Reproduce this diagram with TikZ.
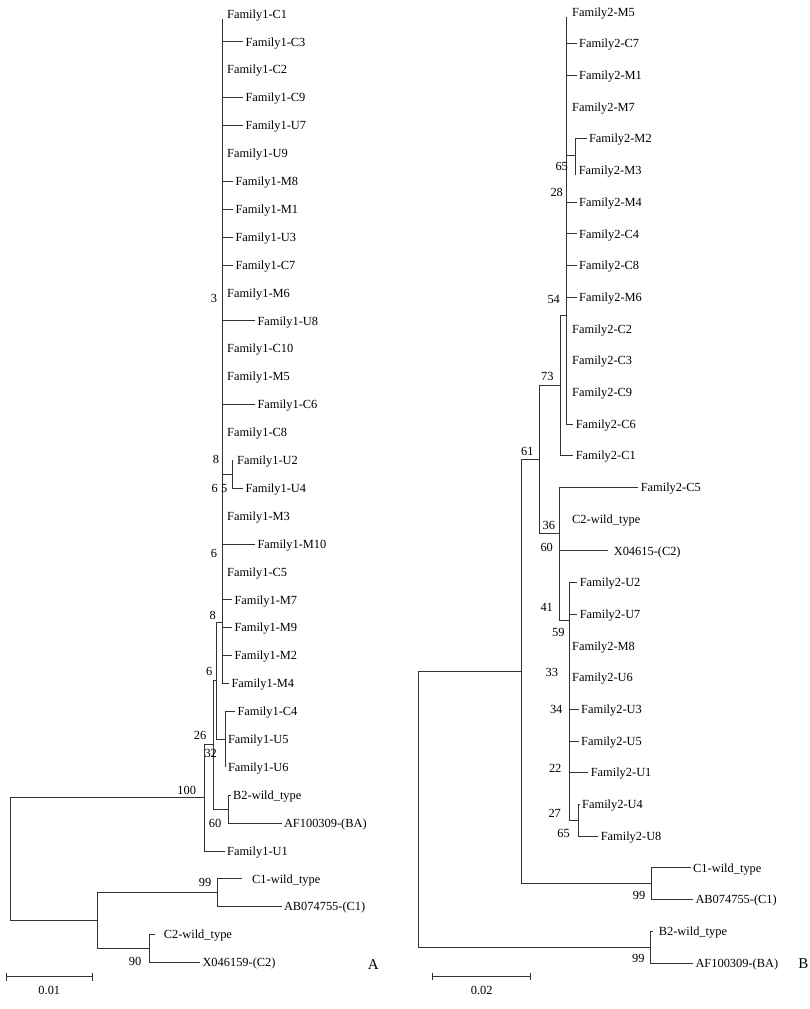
\documentclass[tikz,border=0pt]{standalone}
\usepackage{fontspec}
\setmainfont{Liberation Serif}

\begin{document}
\begin{tikzpicture}[x=1bp,y=-1bp,line width=1bp,
  branch/.style={black!80},
  leaf/.style={anchor=west,inner xsep=2bp,inner ysep=0pt,text height=8.2bp,text depth=0pt,
    font=\fontsize{12.4bp}{14bp}\selectfont},
  boot/.style={inner sep=0pt,text height=8.2bp,text depth=0pt,
    font=\fontsize{12.4bp}{14bp}\selectfont},
  panel/.style={inner sep=0pt,font=\fontsize{15bp}{18bp}\selectfont}]
\useasboundingbox (0,0) rectangle (810,1009);

% tree A: leaves
\foreach \x/\t [count=\i] in {224.7/Family1-C1, 243/Family1-C3, 224.7/Family1-C2, 243/Family1-C9,
    243/Family1-U7, 224.7/Family1-U9, 233/Family1-M8, 233/Family1-M1, 233/Family1-U3, 233/Family1-C7,
    224.7/Family1-M6, 255/Family1-U8, 224.7/Family1-C10, 224.7/Family1-M5, 255/Family1-C6,
    224.7/Family1-C8, 234.7/Family1-U2, 243/Family1-U4, 224.7/Family1-M3, 255/Family1-M10,
    224.7/Family1-C5, 232/Family1-M7, 232/Family1-M9, 232/Family1-M2, 229/Family1-M4,
    235/Family1-C4, 225.5/Family1-U5, 225.5/Family1-U6, 230.7/B2-wild\_type, 281.5/{AF100309-(BA)},
    224.7/Family1-U1, 249.7/C1-wild\_type, 281.5/{AB074755-(C1)}, 161.3/C2-wild\_type, 200/{X046159-(C2)}}
  \node[leaf] (a\i) at (\x,{14+27.9*(\i-1)}) {\t};

% tree A: inner nodes
\coordinate (A8) at (222,622);
\coordinate (AU) at (232.7,474.35);
\coordinate (A6) at (216.7,680.2);
\coordinate (A32) at (225,739.4);
\coordinate (A26) at (213.5,744.7);
\coordinate (A60) at (228.3,809.15);
\coordinate (A100) at (204,797.85);
\coordinate (A99) at (217.3,892.85);
\coordinate (A90) at (149,948.65);
\coordinate (A1) at (97.3,920.75);
\coordinate (rootA) at (10,859.3);

\draw[branch] (A8 |- a1.south) -- (A8 |- a25) -- (a25.west);
\foreach \i in {2,4,5,7,8,9,10,12,15,20,22,23,24}
  \draw[branch] (A8 |- a\i) -- (a\i.west);
\draw[branch] (A8 |- AU) -- (AU);
\draw[branch] (AU |- a17) -- (AU |- a18) -- (a18.west);
\draw[branch] (A8) -- (A6 |- A8) -- (A6 |- A32) -- (A32);
\draw[branch] (a26.west) -- (A32 |- a26) -- (A32 |- a28);
\draw[branch] (A6) -- (A26 |- A6) -- (A26 |- A60) -- (A60);
\draw[branch] (a29.west) -- (A60 |- a29) -- (A60 |- a30) -- (a30.west);
\draw[branch] (A26) -- (A100 |- A26) -- (A100 |- a31) -- (a31.west);
\draw[branch] ([xshift=-8bp]a32.west) -- (A99 |- a32) -- (A99 |- a33) -- (a33.west);
\draw[branch] ([xshift=-6.3bp]a34.west) -- (A90 |- a34) -- (A90 |- a35) -- (a35.west);
\draw[branch] (A99) -- (A1 |- A99) -- (A1 |- A90) -- (A90);
\draw[branch] (A100) -- (rootA |- A100) -- (rootA |- A1) -- (A1);

% tree A: bootstrap values
\foreach \x/\y/\v [count=\i] in {214/298.3/3, 216/459.3/8, 214.7/488.3/6, 224.3/488.3/5, 214/553.3/6,
    212.7/615/8, 209.3/671.7/6, 200/735.7/26, 210.7/753/32, 186.7/790/100, 215/823.3/60,
    205/882.7/99, 135/961.7/90}
  \node[boot] (sa\i) at (\x,\y) {\v};

% tree B: leaves
\foreach \x/\t [count=\i] in {569.7/Family2-M5, 576.7/Family2-C7, 576.7/Family2-M1, 569.7/Family2-M7,
    586.5/Family2-M2, 576.3/Family2-M3, 576.7/Family2-M4, 576.7/Family2-C4, 576.7/Family2-C8,
    576.7/Family2-M6, 569.7/Family2-C2, 569.7/Family2-C3, 569.7/Family2-C9, 573.3/Family2-C6,
    573.3/Family2-C1, 638.3/Family2-C5, 569.7/C2-wild\_type, 611.3/{X04615-(C2)}, 577.3/Family2-U2,
    577.3/Family2-U7, 569.7/Family2-M8, 569.7/Family2-U6, 578.7/Family2-U3, 578.7/Family2-U5,
    588.3/Family2-U1, 579.7/Family2-U4, 598.3/Family2-U8, 690.7/C1-wild\_type, 693/{AB074755-(C1)},
    656.3/B2-wild\_type, 693/{AF100309-(BA)}}
  \node[leaf] (b\i) at (\x,{12+31.7*(\i-1)}) {\t};

% tree B: inner nodes
\coordinate (Bc) at (566.7,315);
\coordinate (BM) at (575,155);
\coordinate (B73) at (560.7,385.4);
\coordinate (B36) at (559.3,533.3);
\coordinate (BU) at (569,620);
\coordinate (B65) at (578.3,820.35);
\coordinate (B61) at (539.3,459.35);
\coordinate (Bm) at (521.7,671.55);
\coordinate (B99a) at (651.7,883.75);
\coordinate (B99b) at (650,947.15);
\coordinate (rootB) at (418.3,809.35);

\draw[branch] (Bc |- b1.south) -- (Bc |- b14) -- (b14.west);
\foreach \i in {2,3,7,8,9,10}
  \draw[branch] (Bc |- b\i) -- (b\i.west);
\draw[branch] (Bc |- BM) -- (BM);
\draw[branch] (b5.west) -- (BM |- b5) -- (BM |- b6.south);
\draw[branch] (Bc) -- (B73 |- Bc) -- (B73 |- b15) -- (b15.west);
\draw[branch] (b16.west) -- (B36 |- b16) -- (B36 |- BU) -- (BU);
\draw[branch] (B36 |- b18) -- ([xshift=-3bp]b18.west);
\draw[branch] (BU |- b19) -- (BU |- B65) -- (B65);
\foreach \i in {19,20,23,24,25}
  \draw[branch] (BU |- b\i) -- (b\i.west);
\draw[branch] (b26.west) -- (B65 |- b26) -- (B65 |- b27) -- (b27.west);
\draw[branch] (B73) -- (B61 |- B73) -- (B61 |- B36) -- (B36);
\draw[branch] (B61) -- (Bm |- B61) -- (Bm |- B99a) -- (B99a);
\draw[branch] (b28.west) -- (B99a |- b28) -- (B99a |- b29) -- (b29.west);
\draw[branch] ([xshift=-3.8bp]b30.west) -- (B99b |- b30) -- (B99b |- b31) -- (b31.west);
\draw[branch] (Bm) -- (rootB |- Bm) -- (rootB |- B99b) -- (B99b);

% tree B: bootstrap values
\foreach \x/\y/\v [count=\i] in {561.7/166.7/65, 556.7/192.7/28, 553.7/299.3/54, 547.3/376.7/73,
    527.3/451.7/61, 548.8/525/36, 546.7/547.3/60, 546.7/607.3/41, 558.3/632.7/59, 551.8/672.7/33,
    556.2/709.3/34, 555.2/768.7/22, 554.7/813.3/27, 563.5/833.3/65, 639/895/99, 638.3/958.3/99}
  \node[boot] (sb\i) at (\x,\y) {\v};

% scale bars and panel letters
\draw[branch] (6.7,973) -- (6.7,980.5) (6.7,976.7) -- (92.3,976.7) (92.3,973) -- (92.3,980.5);
\node[boot] (scA) at (49.3,990) {0.01};
\draw[branch] (432.7,972.5) -- (432.7,980) (432.7,976.2) -- (530,976.2) (530,972.5) -- (530,980);
\node[boot] (scB) at (481.7,990) {0.02};
\node[panel] (pA) at (373.3,965) {A};
\node[panel] (pB) at (803.3,963.3) {B};
\end{tikzpicture}
\end{document}
